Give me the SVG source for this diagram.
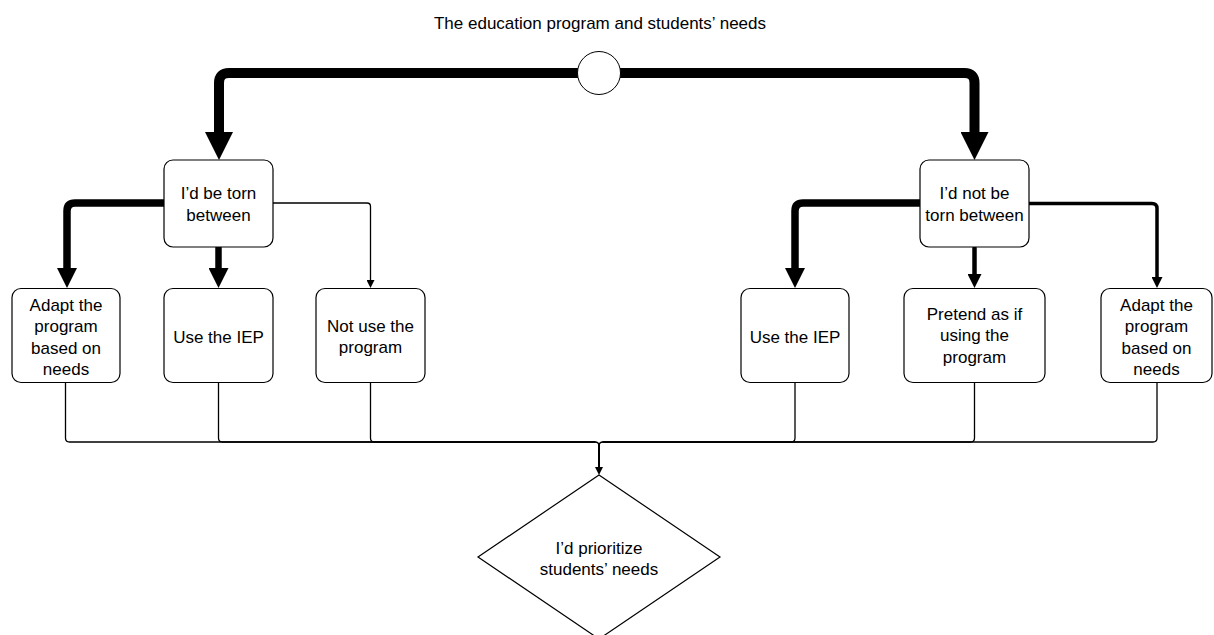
<svg xmlns="http://www.w3.org/2000/svg" width="1214" height="635" viewBox="0 0 1214 635">
<defs>
<style>
.box{fill:#fff;stroke:#000;stroke-width:1.2}
.lbl{font-family:"Liberation Sans",Arial,sans-serif;font-size:17px;fill:#000;text-anchor:middle}
.c{fill:none;stroke:#000;stroke-linecap:round;stroke-linejoin:round}
</style>
<marker id="ah28" viewBox="0 0 10 10" refX="0" refY="5" markerUnits="userSpaceOnUse" markerWidth="28" markerHeight="28" orient="auto"><path d="M0,0 L10,5 L0,10 z" fill="#000"/></marker>
<marker id="ah20" viewBox="0 0 10 10" refX="0" refY="5" markerUnits="userSpaceOnUse" markerWidth="20" markerHeight="20" orient="auto"><path d="M0,0 L10,5 L0,10 z" fill="#000"/></marker>
<marker id="ah14" viewBox="0 0 10 10" refX="0" refY="5" markerUnits="userSpaceOnUse" markerWidth="14" markerHeight="14" orient="auto"><path d="M0,0 L10,5 L0,10 z" fill="#000"/></marker>
<marker id="ah11" viewBox="0 0 10 10" refX="0" refY="5" markerUnits="userSpaceOnUse" markerWidth="11" markerHeight="11" orient="auto"><path d="M0,0 L10,5 L0,10 z" fill="#000"/></marker>
<marker id="ah8" viewBox="0 0 10 10" refX="0" refY="5" markerUnits="userSpaceOnUse" markerWidth="8" markerHeight="8" orient="auto"><path d="M0,0 L10,5 L0,10 z" fill="#000"/></marker>
</defs>
<rect width="1214" height="635" fill="#fff"/>
<text class="lbl" x="600" y="29">The education program and students’ needs</text>

<g id="connectors">
<path class="c" style="stroke-width:10" d="M578 73 H229 Q219 73 219 83 V132" marker-end="url(#ah28)"/>
<path class="c" style="stroke-width:10" d="M620 73 H964.5 Q974.5 73 974.5 83 V132" marker-end="url(#ah28)"/>
<path class="c" style="stroke-width:7.5" d="M164 203 H75 Q67 203 67 211 V268" marker-end="url(#ah20)"/>
<path class="c" style="stroke-width:6.5" d="M218.5 248 V268" marker-end="url(#ah20)"/>
<path class="c" style="stroke-width:1.3" d="M273 203 H367 Q370.5 203 370.5 206.5 V280" marker-end="url(#ah8)"/>
<path class="c" style="stroke-width:7.5" d="M920 203 H803 Q795 203 795 211 V268" marker-end="url(#ah20)"/>
<path class="c" style="stroke-width:4.5" d="M974.5 248 V274" marker-end="url(#ah14)"/>
<path class="c" style="stroke-width:3.5" d="M1029 203.5 H1152 Q1157 203.5 1157 208.5 V277" marker-end="url(#ah11)"/>
<path class="c" style="stroke-width:1.3" d="M65.5 382 V438 Q65.5 442 69.5 442 H595 Q599 442 599 446"/>
<path class="c" style="stroke-width:1.3" d="M218.5 382 V438 Q218.5 442 222.5 442 H595"/>
<path class="c" style="stroke-width:1.3" d="M370.5 382 V438 Q370.5 442 374.5 442 H595"/>
<path class="c" style="stroke-width:1.3" d="M795 382 V438 Q795 442 791 442 H603"/>
<path class="c" style="stroke-width:1.3" d="M974.5 382 V438 Q974.5 442 970.5 442 H603"/>
<path class="c" style="stroke-width:1.3" d="M1157 382 V438 Q1157 442 1153 442 H603 Q599 442 599 446"/>
<path class="c" style="stroke-width:2" d="M599 445 V467" marker-end="url(#ah8)"/>
</g>

<g id="start">
<circle cx="599" cy="73" r="21.5" fill="#fff" stroke="#000" stroke-width="1"/>
</g>

<g id="torn">
<rect class="box" x="164" y="160" width="109" height="87" rx="9"/>
<text class="lbl" x="218.5" y="199">I’d be torn</text>
<text class="lbl" x="218.5" y="221">between</text>
</g>

<g id="nottorn">
<rect class="box" x="920" y="160" width="109" height="87" rx="9"/>
<text class="lbl" x="974.5" y="199">I’d not be</text>
<text class="lbl" x="974.5" y="221">torn between</text>
</g>

<g id="l-adapt">
<rect class="box" x="12" y="288.5" width="108" height="94" rx="9"/>
<text class="lbl" x="66" y="310.5">Adapt the</text>
<text class="lbl" x="66" y="332">program</text>
<text class="lbl" x="66" y="353.5">based on</text>
<text class="lbl" x="66" y="375">needs</text>
</g>

<g id="l-iep">
<rect class="box" x="164" y="288.5" width="109" height="94" rx="9"/>
<text class="lbl" x="218.5" y="342.5">Use the IEP</text>
</g>

<g id="l-notuse">
<rect class="box" x="316" y="288.5" width="109" height="94" rx="9"/>
<text class="lbl" x="370.5" y="331.5">Not use the</text>
<text class="lbl" x="370.5" y="353">program</text>
</g>

<g id="r-iep">
<rect class="box" x="741" y="288.5" width="108" height="94" rx="9"/>
<text class="lbl" x="795" y="342.5">Use the IEP</text>
</g>

<g id="r-pretend">
<rect class="box" x="904" y="288.5" width="141" height="94" rx="9"/>
<text class="lbl" x="974.5" y="319.5">Pretend as if</text>
<text class="lbl" x="974.5" y="341">using the</text>
<text class="lbl" x="974.5" y="362.5">program</text>
</g>

<g id="r-adapt">
<rect class="box" x="1101" y="288.5" width="111" height="94" rx="9"/>
<text class="lbl" x="1156.5" y="310.5">Adapt the</text>
<text class="lbl" x="1156.5" y="332">program</text>
<text class="lbl" x="1156.5" y="353.5">based on</text>
<text class="lbl" x="1156.5" y="375">needs</text>
</g>

<g id="decision">
<polygon points="599,475 720,557 599,639 478,557" fill="#fff" stroke="#000" stroke-width="1.2"/>
<text class="lbl" x="599" y="553.5">I’d prioritize</text>
<text class="lbl" x="599" y="575">students’ needs</text>
</g>
</svg>
